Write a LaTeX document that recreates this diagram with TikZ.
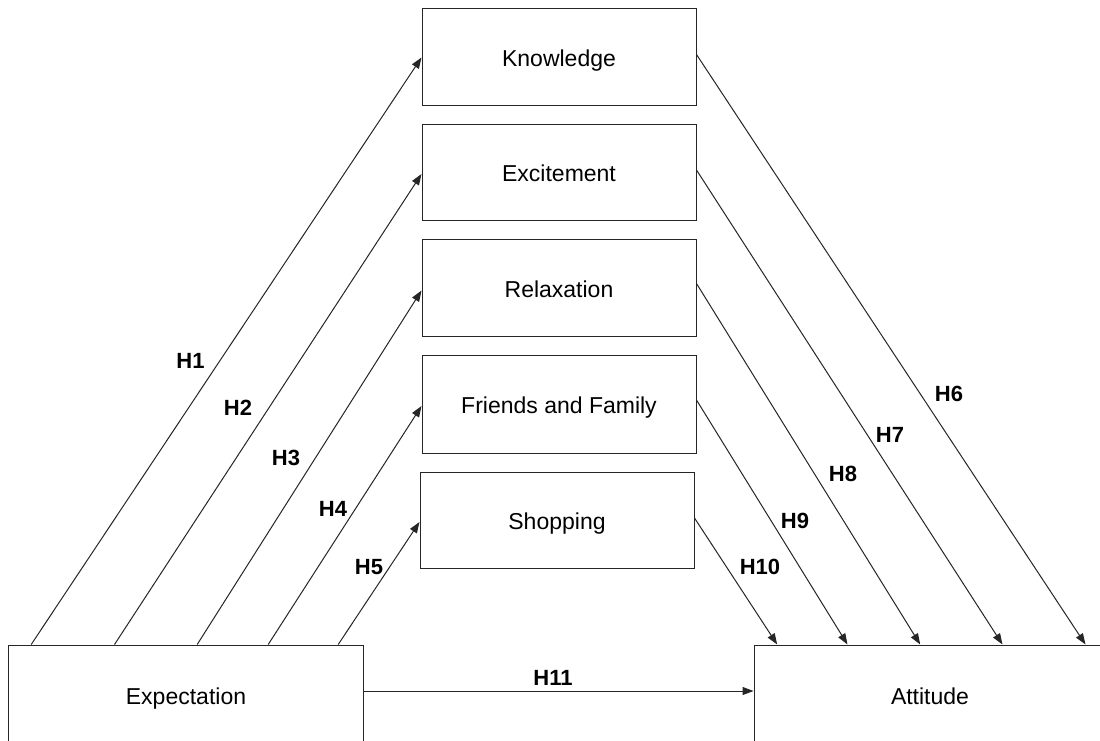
\documentclass[tikz,border=0pt]{standalone}
\usepackage{fontspec}
\setmainfont{Liberation Sans}
\usetikzlibrary{arrows.meta}
\begin{document}
\begin{tikzpicture}[x=1pt,y=-1pt,
  box/.style={draw=black!85,line width=1pt,rectangle,inner sep=0pt,text height=19pt,text depth=0pt,font=\fontsize{23}{26}\selectfont},
  conn/.style={draw=black!85,line width=1pt,-{Triangle[length=11pt,width=8pt]}},
  hlab/.style={font=\fontsize{22}{24}\selectfont\bfseries,inner sep=0pt}]
\useasboundingbox (0,0) rectangle (1100,740);
\clip (0,0) rectangle (1100,740);
\fill[white] (0,0) rectangle (1100,740);
\node[box,minimum width=274pt,minimum height=97pt] (know) at (559,56.5) {Knowledge};
\node[box,minimum width=274pt,minimum height=96pt] (exc) at (559,172) {Excitement};
\node[box,minimum width=274pt,minimum height=97pt] (rel) at (559,287.5) {Relaxation};
\node[box,minimum width=274pt,minimum height=98pt] (fam) at (559,404) {Friends and Family};
\node[box,minimum width=274pt,minimum height=96pt] (shop) at (557,520) {Shopping};
\node[box,minimum width=355.4pt,minimum height=100pt] (exp) at (186,695) {Expectation};
\node[box,minimum width=352pt,minimum height=100pt] (att) at (930,695) {Attitude};
% left fan
\draw[conn] ([xshift=23.4pt]exp.north west) -- ([yshift=-1pt]know.west);
\draw[conn] ([xshift=106.7pt]exp.north west) -- ([yshift=-2pt]exc.west);
\draw[conn] ([xshift=189.4pt]exp.north west) -- ([yshift=-3pt]rel.west);
\draw[conn] ([xshift=260.4pt]exp.north west) -- ([yshift=-2pt]fam.west);
\draw[conn] ([xshift=330.4pt]exp.north west) -- ([yshift=-2pt]shop.west);
% right fan
\draw[conn] ([yshift=2pt]know.east) -- ([xshift=332pt]att.north west);
\draw[conn] ([yshift=2pt]exc.east) -- ([xshift=249pt]att.north west);
\draw[conn] ([yshift=4pt]rel.east) -- ([xshift=166.7pt]att.north west);
\draw[conn] ([yshift=4pt]fam.east) -- ([xshift=94pt]att.north west);
\draw[conn] ([yshift=2pt]shop.east) -- ([xshift=23.7pt]att.north west);
% H11
\draw[conn] ([yshift=4pt]exp.east) -- ([yshift=4pt]att.west);
% labels
\node[hlab] (h1) at (190.5,361) {H1};
\node[hlab] (h2) at (238,408) {H2};
\node[hlab] (h3) at (286,458) {H3};
\node[hlab] (h4) at (333,509) {H4};
\node[hlab] (h5) at (369,567) {H5};
\node[hlab] (h6) at (949,394) {H6};
\node[hlab] (h7) at (890,435) {H7};
\node[hlab] (h8) at (843,474) {H8};
\node[hlab] (h9) at (795,521) {H9};
\node[hlab] (h10) at (760,567) {H10};
\node[hlab] (h11) at (553,678) {H11};
\end{tikzpicture}
\end{document}
